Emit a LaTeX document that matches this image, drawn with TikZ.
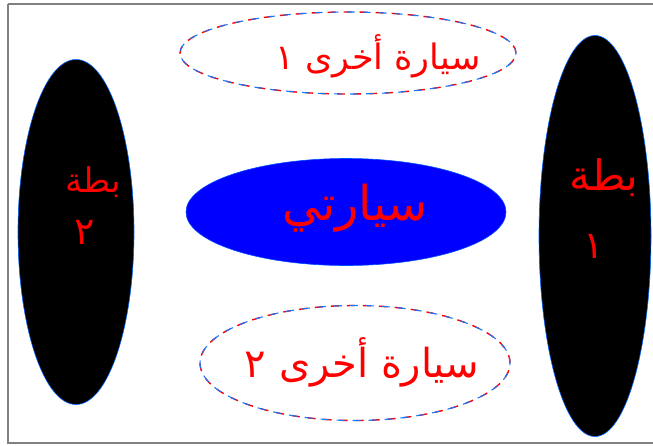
\documentclass[tikz,border=0pt]{standalone}
\usepackage{fontspec}
\usetikzlibrary{shapes.geometric}
\newfontfamily\arabicfont[Script=Arabic]{DejaVu Sans}
\TeXXeTstate=1
\definecolor{dashblue}{RGB}{20,120,255}
\tikzset{
  blackoval/.style={ellipse, fill=black, draw=blue!60!cyan, line width=0.6pt, inner sep=0pt},
  blueoval/.style={ellipse, fill=blue, draw=blue!70!cyan, line width=0.6pt, inner sep=0pt},
  dashoval/.style={ellipse, inner sep=0pt, draw=red, line width=1.4pt, dash pattern=on 8pt off 8pt},
  dashovalb/.style={ellipse, inner sep=0pt, draw=dashblue, line width=1.1pt, dash pattern=on 8pt off 8pt, dash phase=3pt},
  arlabel/.style={text=red, font=\arabicfont\fontsize{#1}{#1}\selectfont, inner sep=0pt, align=center},
}
\begin{document}
\begin{tikzpicture}[x=1pt,y=-1pt]
\useasboundingbox (0,0) rectangle (653,445);
\fill[white] (0,0) rectangle (653,445);
\draw[gray, line width=2pt] (8,4) -- (8,443) -- (660,443);
\draw[gray, line width=2pt] (8,4) -- (660,4);
% ovals
\node[blackoval, minimum width=116pt, minimum height=345pt] (left) at (76,232) {};
\node[blackoval, minimum width=112pt, minimum height=401pt] (right) at (595,236) {};
\node[blueoval, minimum width=320pt, minimum height=107pt] (center) at (346,212) {};
\node[dashoval, minimum width=336pt, minimum height=82pt] (top) at (348,53) {};
\node[dashovalb, minimum width=336pt, minimum height=82pt] (topb) at (348,53) {};
\node[dashoval, minimum width=310pt, minimum height=115pt] (bottom) at (355,363) {};
\node[dashovalb, minimum width=310pt, minimum height=115pt] (bottomb) at (355,363) {};
% texts
\node[arlabel=35pt] (toptext) at (378,56) {\beginR سيارة أخرى ١\endR};
\node[arlabel=40pt] (bottomtext) at (362,362) {\beginR سيارة أخرى ٢\endR};
\node[arlabel=48pt] (centertext) at (355,208) {\beginR سيارتي\endR};
\node[arlabel=34pt] (lefttext) at (93,182) {\beginR بطة\endR};
\node[arlabel=38pt] (leftnum) at (85,232) {٢};
\node[arlabel=42pt] (righttext) at (604,178) {\beginR بطة\endR};
\node[arlabel=38pt] (rightnum) at (594,246) {١};
\end{tikzpicture}
\end{document}
